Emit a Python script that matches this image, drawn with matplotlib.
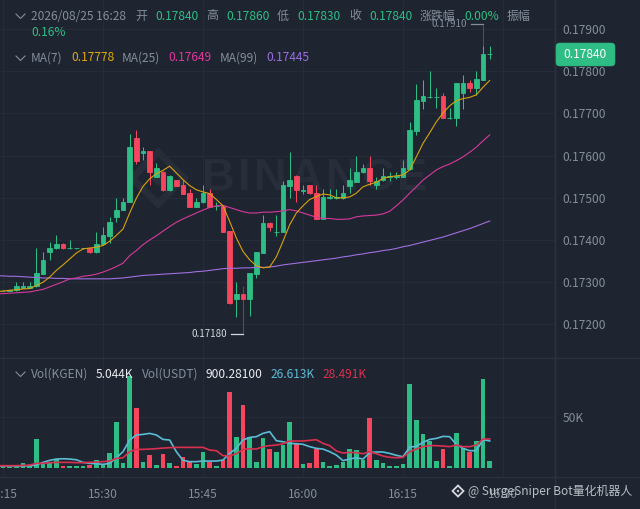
import matplotlib
matplotlib.use('Agg')
import matplotlib.pyplot as plt
from matplotlib.lines import Line2D
from matplotlib.patches import FancyBboxPatch, Polygon

plt.rcParams['font.family'] = ['Noto Sans CJK SC', 'DejaVu Sans']

# K-line data, one candle per minute from 15:15 to 16:28
opens = [.17280, .17280, .17281, .17287, .17287, .17290, .17320, .17371, .17380, .17391,
         .17380, .17380, .17380, .17381, .17371, .17390, .17410, .17454, .17470, .17489,
         .17641, .17605, .17611, .17549, .17562, .17518, .17542, .17531, .17512, .17479,
         .17489, .17511, .17480, .17481, .17421, .17260, .17271, .17260, .17319, .17370,
         .17441, .17419, .17420, .17529, .17552, .17517, .17530, .17511, .17450, .17500,
         .17500, .17499, .17529, .17538, .17560, .17571, .17530, .17541, .17549, .17549,
         .17550, .17568, .17658, .17729, .17739, .17739, .17741, .17688, .17689, .17749,
         .17771, .17759, .17779, .17840]
highs = [.17281, .17282, .17301, .17300, .17301, .17381, .17371, .17395, .17411, .17392,
         .17401, .17381, .17381, .17382, .17420, .17431, .17454, .17500, .17499, .17651,
         .17660, .17620, .17612, .17582, .17563, .17553, .17543, .17542, .17521, .17500,
         .17530, .17520, .17490, .17482, .17422, .17300, .17290, .17322, .17372, .17459,
         .17442, .17459, .17540, .17609, .17553, .17530, .17531, .17530, .17521, .17521,
         .17521, .17530, .17570, .17600, .17580, .17600, .17550, .17570, .17560, .17560,
         .17590, .17680, .17770, .17779, .17800, .17759, .17749, .17712, .17772, .17790,
         .17779, .17800, .17910, .17860]
lows = [.17279, .17279, .17279, .17286, .17286, .17289, .17320, .17352, .17379, .17379,
        .17379, .17379, .17379, .17370, .17370, .17388, .17394, .17442, .17470, .17489,
        .17580, .17590, .17530, .17549, .17517, .17517, .17528, .17508, .17478, .17478,
        .17488, .17478, .17470, .17420, .17249, .17218, .17180, .17221, .17311, .17369,
        .17422, .17410, .17419, .17499, .17491, .17509, .17510, .17449, .17449, .17498,
        .17498, .17498, .17511, .17537, .17558, .17530, .17520, .17540, .17540, .17545,
        .17549, .17565, .17649, .17710, .17736, .17713, .17688, .17686, .17670, .17710,
        .17750, .17744, .17778, .17830]
closes = [.17280, .17281, .17291, .17292, .17292, .17322, .17352, .17381, .17391, .17380,
          .17381, .17381, .17381, .17371, .17391, .17412, .17442, .17472, .17490, .17621,
          .17588, .17610, .17560, .17570, .17518, .17552, .17529, .17509, .17479, .17491,
          .17511, .17479, .17481, .17420, .17250, .17271, .17260, .17321, .17371, .17441,
          .17430, .17420, .17530, .17542, .17518, .17519, .17511, .17449, .17503, .17501,
          .17501, .17512, .17541, .17561, .17571, .17540, .17540, .17552, .17552, .17552,
          .17571, .17661, .17732, .17741, .17740, .17740, .17689, .17689, .17771, .17771,
          .17759, .17781, .17841, .17840]

# moving averages start one minute earlier, they run off the left edge
ma7 = [.17278, .17279, .17281, .17282, .17284, .17285, .17292, .17300, .17312, .17328, .17341,
       .17355, .17369, .17379, .17381, .17383, .17387, .17397, .17411, .17426, .17464,
       .17499, .17527, .17545, .17557, .17565, .17575, .17559, .17543, .17529, .17519,
       .17514, .17510, .17496, .17481, .17444, .17405, .17373, .17353, .17339, .17334,
       .17336, .17360, .17397, .17436, .17464, .17481, .17496, .17503, .17509, .17507,
       .17500, .17500, .17502, .17511, .17526, .17532, .17537, .17546, .17550, .17552,
       .17554, .17566, .17597, .17629, .17654, .17680, .17701, .17718, .17730, .17735,
       .17738, .17744, .17762, .17778]
ma25 = [.17272, .17273, .17274, .17275, .17276, .17277, .17280, .17283, .17289, .17295, .17301,
        .17308, .17310, .17314, .17316, .17319, .17324, .17330, .17337, .17345, .17363,
        .17375, .17389, .17400, .17410, .17421, .17432, .17442, .17450, .17457, .17464,
        .17471, .17477, .17481, .17482, .17477, .17472, .17467, .17464, .17464, .17466,
        .17466, .17467, .17469, .17472, .17469, .17464, .17459, .17454, .17451, .17451,
        .17449, .17449, .17450, .17455, .17457, .17458, .17459, .17462, .17468, .17481,
        .17495, .17511, .17526, .17542, .17554, .17566, .17574, .17580, .17588, .17597,
        .17608, .17620, .17635, .17649]
ma99 = [.17315, .17315, .17314, .17314, .17313, .17312, .17311, .17310, .17310, .17309, .17309,
        .17308, .17308, .17308, .17308, .17308, .17308, .17308, .17309, .17310, .17312,
        .17314, .17316, .17317, .17318, .17319, .17320, .17321, .17322, .17323, .17325,
        .17326, .17328, .17330, .17332, .17333, .17333, .17334, .17334, .17335, .17335,
        .17336, .17338, .17341, .17343, .17345, .17347, .17349, .17351, .17353, .17355,
        .17357, .17360, .17362, .17365, .17367, .17370, .17372, .17375, .17377, .17380,
        .17384, .17387, .17391, .17395, .17399, .17403, .17407, .17412, .17417, .17422,
        .17427, .17433, .17439, .17445]

# volume in thousands
volume = [1.0, 1.0, 2.0, 4.6, 2.6, 28.1, 3.3, 6.0, 8.6, 1.7,
          2.0, 1.7, 1.3, 2.6, 7.3, 2.6, 14.6, 45.7, 4.3, 90.7,
          58.9, 5.3, 12.6, 2.6, 13.6, 4.6, 1.3, 10.6, 6.0, 4.0,
          15.9, 6.0, 1.7, 7.6, 75.5, 30.1, 62.3, 30.1, 5.3, 29.8,
          18.5, 15.9, 22.5, 45.7, 23.8, 3.6, 5.0, 18.5, 6.0, 1.3,
          2.6, 6.0, 18.2, 17.5, 7.3, 49.0, 7.3, 4.3, 1.3, 1.3,
          3.6, 83.1, 47.0, 33.4, 26.8, 6.6, 18.2, 1.3, 34.1, 19.2,
          15.9, 26.5, 88.1, 6.3]
vol_ma_short = [1.7, 1.7, 1.7, 1.7, 1.7, 2.0, 2.6, 5.3, 7.3, 8.6, 8.9,
                8.6, 7.9, 5.3, 4.3, 4.0, 3.3, 4.3, 9.9, 15.9, 27.5,
                32.5, 33.1, 34.1, 32.5, 28.1, 27.5, 15.9, 7.3, 6.0, 6.0,
                6.6, 6.6, 6.6, 7.6, 14.2, 19.2, 27.5, 30.1, 30.8, 34.1,
                35.8, 26.8, 25.8, 24.2, 23.8, 23.2, 20.9, 19.2, 18.5, 15.9,
                12.6, 7.0, 8.6, 9.9, 8.6, 15.0, 15.6, 15.6, 14.2, 12.3,
                10.9, 20.5, 21.2, 25.2, 28.1, 29.1, 31.1, 30.8, 23.2, 19.2,
                16.9, 16.9, 27.8, 26.6]
vol_ma_long = [2.0, 2.0, 2.0, 2.0, 2.3, 2.6, 4.3, 4.3, 5.0, 5.3, 5.3,
               5.3, 5.0, 5.0, 5.3, 5.6, 6.0, 6.6, 9.3, 9.9, 15.9,
               18.2, 18.2, 18.5, 18.9, 19.5, 19.9, 20.2, 20.2, 20.2, 20.2,
               20.2, 17.5, 16.9, 11.9, 11.9, 13.9, 18.2, 18.9, 18.5, 20.9,
               21.9, 22.5, 23.8, 26.5, 26.5, 26.5, 27.2, 27.8, 24.2, 21.9,
               16.6, 14.6, 15.2, 14.9, 13.9, 15.9, 13.9, 11.6, 10.3, 9.9,
               10.3, 15.9, 18.5, 20.9, 21.9, 21.9, 21.5, 20.9, 22.5, 20.9,
               20.9, 22.5, 28.5, 28.5]

price_ticks = [.172, .173, .174, .175, .176, .177, .178, .179]
time_ticks = [0, 15, 30, 45, 60, 75]
time_labels = ['15:15', '15:30', '15:45', '16:00', '16:15', '16:30']

BG = '#1e2530'
GRID = '#252c37'
SEP = '#2b323d'
GREY = '#848e9c'
GREEN = '#2ebd85'
RED = '#f6465d'
MARK = '#272e39'
W, H = 640, 509
FS = 8.6


def fx(x):
    return x / W


def fy(y):
    return 1 - y / H


def label(x, y, s, color=GREY, size=FS, **kw):
    fig.text(fx(x), fy(y), s, color=color, fontsize=size, va='center', ha='left', **kw)


def chevron(x, y):
    fig.add_artist(Line2D([fx(x), fx(x + 4.5), fx(x + 9)], [fy(y - 2), fy(y + 2.5), fy(y - 2)],
                          color=GREY, lw=0.8))


def diamond(cx, cy, r, fill, ec, lw, z):
    pts = [[fx(cx - r), fy(cy)], [fx(cx), fy(cy - r)], [fx(cx + r), fy(cy)], [fx(cx), fy(cy + r)]]
    fig.add_artist(Polygon(pts, closed=True, fill=fill, fc=ec, ec=ec, lw=lw, zorder=z))


fig = plt.figure(figsize=(W / 100, H / 100), dpi=100, facecolor=BG)
ax = fig.add_axes([0, fy(358), fx(555), 358 / H], facecolor='none')
ax_vol = fig.add_axes([0, fy(477), fx(555), 119 / H], facecolor='none')

# watermark goes under the candles
wm_x = 202
for ch, adv in zip('BINANCE', [.722, .278, .722, .722, .722, .722, .667]):
    fig.text(fx(wm_x), fy(178.5), ch, color=MARK, fontsize=32.6, fontweight='bold',
             family='Liberation Sans', va='center', ha='left', zorder=-5)
    wm_x += adv * 45.3 + 3.2
diamond(158, 178, 26, False, MARK, 5, -5)
diamond(158, 178, 8, True, MARK, 0, -5)

for i in range(len(opens)):
    up = closes[i] >= opens[i]
    col = GREEN if up else RED
    # the two extreme wicks are dimmer in the reference
    if i == 72:
        ax.vlines(i, .17860, highs[i], color='#1b6b55', lw=0.75, zorder=2)
        ax.vlines(i, lows[i], .17860, color=col, lw=0.75, zorder=2)
    elif i == 36:
        ax.vlines(i, lows[i], highs[i], color='#9c3049', lw=0.75, zorder=2)
    else:
        ax.vlines(i, lows[i], highs[i], color=col, lw=0.75, zorder=2)
    ax.bar(i, abs(closes[i] - opens[i]), bottom=min(opens[i], closes[i]), width=0.72,
           color=col, edgecolor=col, linewidth=0.6, zorder=3)
    ax_vol.bar(i, volume[i], width=0.72, color=col, zorder=3)

x_ma = list(range(-1, len(opens)))
ax.plot(x_ma, ma99, color='#a06fe0', lw=0.8, zorder=4)
ax.plot(x_ma, ma25, color='#d6399b', lw=0.8, zorder=4)
ax.plot(x_ma, ma7, color='#d9a20c', lw=0.8, zorder=4)
ax_vol.plot(x_ma, vol_ma_short, color='#5bbcd6', lw=1.2, zorder=4)
ax_vol.plot(x_ma, vol_ma_long, color='#d9304f', lw=1.2, zorder=5)

ax.set_xlim(-0.45, 82.8)
ax_vol.set_xlim(-0.45, 82.8)
ax.set_ylim(.171204, .179687)
ax_vol.set_ylim(-9.24, 108.97)

ax.set_yticks(price_ticks)
ax.set_yticklabels([f'{p:.5f}' for p in price_ticks])
ax.yaxis.tick_right()
ax.tick_params(axis='y', length=0, pad=5.2, labelcolor=GREY, labelsize=FS)
ax.set_xticks(time_ticks)
ax.tick_params(axis='x', length=0, labelbottom=False)

ax_vol.set_yticks([50])
ax_vol.set_yticklabels(['50K'])
ax_vol.yaxis.tick_right()
ax_vol.tick_params(axis='y', length=0, pad=5.2, labelcolor=GREY, labelsize=FS)
ax_vol.set_xticks(time_ticks)
ax_vol.set_xticklabels(time_labels)
ax_vol.tick_params(axis='x', length=0, pad=7.8, labelcolor=GREY, labelsize=FS)

for a in (ax, ax_vol):
    a.grid(True, color=GRID, lw=0.8, zorder=0)
    a.set_axisbelow(True)
    for name in a.spines:
        a.spines[name].set_visible(False)
    a.spines['right'].set_visible(True)
    a.spines['right'].set_color(SEP)
    a.spines['right'].set_linewidth(1)
fig.add_artist(Line2D([0, 1], [fy(358), fy(358)], color=SEP, lw=1))
fig.add_artist(Line2D([0, 1], [fy(477), fy(477)], color=SEP, lw=1))
fig.add_artist(Line2D([fx(555), fx(555)], [0, 1], color=SEP, lw=1))

# header rows
chevron(16, 16)
label(31, 16, '2026/08/25 16:28')
label(135, 16, '开')
label(155, 16, '0.17840', GREEN)
label(206, 16, '高')
label(226, 16, '0.17860', GREEN)
label(277, 16, '低')
label(297, 16, '0.17830', GREEN)
label(349, 16, '收')
label(369, 16, '0.17840', GREEN)
label(420, 16, '涨跌幅')
label(464, 16, '0.00%', GREEN)
label(507, 16, '振幅')
label(31, 32.5, '0.16%', GREEN)

chevron(16, 58)
label(31, 58, 'MA(7)')
label(71, 58, '0.17778', '#e0a80d')
label(122, 58, 'MA(25)')
label(168, 58, '0.17649', '#e0379d')
label(220, 58, 'MA(99)')
label(266, 58, '0.17445', '#9a6fe0')

chevron(16, 374)
label(31, 374.5, 'Vol(KGEN)')
label(96, 374.5, '5.044K', '#eaecef')
label(142, 374.5, 'Vol(USDT)')
label(206, 374.5, '900.28100', '#eaecef')
label(271, 374.5, '26.613K', '#5bbcd6')
label(323, 374.5, '28.491K', '#d9304f')

# high and low markers
label(432, 24, '0.17910', GREY, 7)
fig.add_artist(Line2D([fx(471), fx(483)], [fy(24), fy(24)], color=GREY, lw=0.9))
label(192, 334, '0.17180', '#d5d8dc', 7)
fig.add_artist(Line2D([fx(231), fx(243)], [fy(333.5), fy(333.5)], color='#d5d8dc', lw=0.9))

# current price tag
fig.add_artist(FancyBboxPatch((fx(558), fy(64)), fx(55), 19 / H, boxstyle='round,pad=0.003,rounding_size=0.006',
                              fc=GREEN, ec=GREEN, lw=0.5, mutation_aspect=W / H, zorder=6))
fig.text(fx(584.5), fy(54.5), '0.17840', color='white', fontsize=FS, va='center', ha='center', zorder=7)

# source watermark over the axis labels
diamond(458, 491, 5.5, False, '#d5d8dc', 1.3, 8)
diamond(458, 491, 1.5, True, '#d5d8dc', 0, 8)
fig.text(fx(468.5), fy(491), '@ SurgeSniper Bot量化机器人', color='#b9bdc4', fontsize=8.6,
         va='center', ha='left', zorder=8)

fig.savefig('out.png', dpi=100, facecolor=BG)
